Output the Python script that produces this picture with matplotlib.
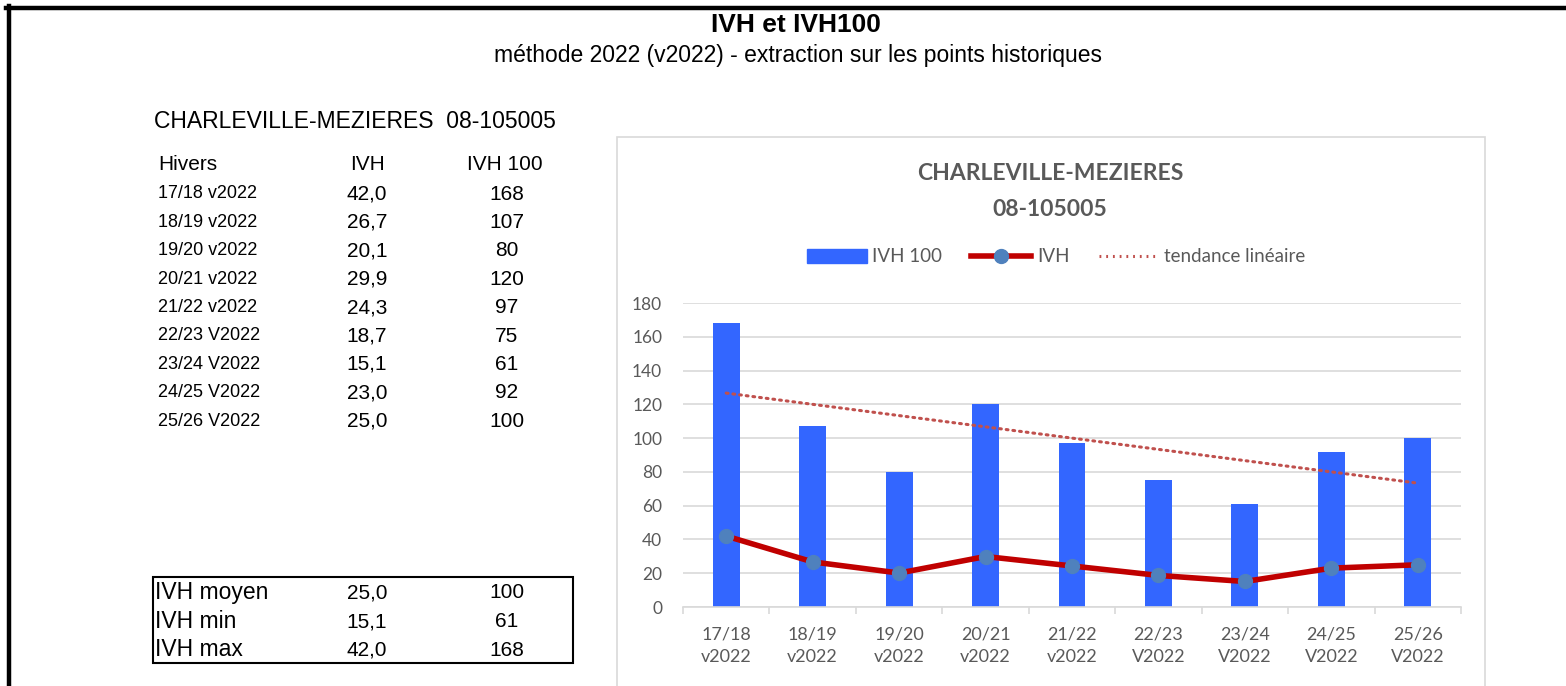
import numpy as np
import matplotlib
matplotlib.use("Agg")
import matplotlib.pyplot as plt
from matplotlib.patches import Rectangle
from matplotlib.lines import Line2D

# data
hivers = ["17/18 v2022", "18/19 v2022", "19/20 v2022", "20/21 v2022", "21/22 v2022",
          "22/23 V2022", "23/24 V2022", "24/25 V2022", "25/26 V2022"]
ivh = [42.0, 26.7, 20.1, 29.9, 24.3, 18.7, 15.1, 23.0, 25.0]
ivh100 = [168, 107, 80, 120, 97, 75, 61, 92, 100]
summary_labels = ["IVH moyen", "IVH min", "IVH max"]
summary_ivh = [25.0, 15.1, 42.0]
summary_ivh100 = [100, 61, 168]
yticks = [0, 20, 40, 60, 80, 100, 120, 140, 160, 180]

W, H = 1566, 686
fig = plt.figure(figsize=(W / 100, H / 100), dpi=100)
fig.patch.set_facecolor("white")


def fx(px):
    return px / W


def fy(py):
    return 1 - py / H


def fr(v):
    return f"{v:.1f}".replace(".", ",")


ARIAL = "Liberation Sans"
CAL = "Lato"
GREY = "#595959"

# outer border (top + left)
fig.add_artist(Line2D([fx(6), 1], [fy(8), fy(8)], color="black", lw=3.2,
                      transform=fig.transFigure))
fig.add_artist(Line2D([fx(9), fx(9)], [fy(6), 0], color="black", lw=3.2,
                      transform=fig.transFigure))

fig.text(fx(796), fy(32), "IVH et IVH100", ha="center", va="baseline",
         fontsize=19, fontweight="bold", family=ARIAL)
fig.text(fx(798), fy(62), "méthode 2022 (v2022) - extraction sur les points historiques",
         ha="center", va="baseline", fontsize=16.5, family=ARIAL)

fig.text(fx(154), fy(121), "CHARLEVILLE-MEZIERES  08-105005", ha="left", va="center",
         fontsize=16.5, family=ARIAL)

# left table
fig.text(fx(158), fy(164), "Hivers", ha="left", va="center", fontsize=15, family=ARIAL)
fig.text(fx(368), fy(164), "IVH", ha="center", va="center", fontsize=15, family=ARIAL)
fig.text(fx(505), fy(164), "IVH 100", ha="center", va="center", fontsize=15, family=ARIAL)
for i, (h, a, b) in enumerate(zip(hivers, ivh, ivh100)):
    y = 194 + i * 28.4
    fig.text(fx(158), fy(y), h, ha="left", va="center", fontsize=13, family=ARIAL)
    fig.text(fx(367), fy(y), fr(a), ha="center", va="center", fontsize=15, family=ARIAL)
    fig.text(fx(507), fy(y), str(b), ha="center", va="center", fontsize=15, family=ARIAL)

# summary box
fig.add_artist(Rectangle((fx(153), fy(663)), fx(573) - fx(153), fy(577) - fy(663),
                         transform=fig.transFigure, fill=False, ec="black", lw=1.5))
for i, (lab, a, b) in enumerate(zip(summary_labels, summary_ivh, summary_ivh100)):
    y = 593 + i * 28.5
    fig.text(fx(155), fy(y), lab, ha="left", va="center", fontsize=16.5, family=ARIAL)
    fig.text(fx(367), fy(y), fr(a), ha="center", va="center", fontsize=15, family=ARIAL)
    fig.text(fx(507), fy(y), str(b), ha="center", va="center", fontsize=15, family=ARIAL)

# chart frame
fig.add_artist(Rectangle((fx(617), fy(700)), fx(1485) - fx(617), fy(137) - fy(700),
                         transform=fig.transFigure, fill=False, ec="#D9D9D9", lw=1.2))
fig.text(fx(1050), fy(173), "CHARLEVILLE-MEZIERES", ha="center", va="center",
         fontsize=16.5, fontweight="bold", color=GREY, family=CAL)
fig.text(fx(1050), fy(209), "08-105005", ha="center", va="center",
         fontsize=16.5, fontweight="bold", color=GREY, family=CAL)

# chart axes
ax = fig.add_axes([fx(683), fy(607), fx(1461) - fx(683), fy(303) - fy(607)])
x = np.arange(len(ivh100))
ax.bar(x, ivh100, width=0.31, color="#3366FF", zorder=2, label="IVH 100")
coef = np.polyfit(x, ivh100, 1)
ax.plot(x, np.polyval(coef, x), color="#C0504D", lw=2.2, ls=(0, (0.6, 1.6)),
        dash_capstyle="round", zorder=3, label="tendance linéaire")
ax.plot(x, ivh, color="#C00000", lw=4, marker="o", ms=10, mfc="#4F81BD",
        mec="#4F81BD", zorder=4, label="IVH")
ax.set_xlim(-0.5, len(x) - 0.5)
ax.set_ylim(0, 180)
ax.set_yticks(yticks)
ax.grid(axis="y", color="#D9D9D9", lw=1.2, zorder=0)
ax.set_axisbelow(True)
for s in ["top", "right", "left"]:
    ax.spines[s].set_visible(False)
ax.spines["bottom"].set_color("#D9D9D9")
ax.spines["bottom"].set_linewidth(1.2)
ax.tick_params(axis="y", length=0, labelsize=12.5, labelcolor=GREY, pad=15)
ax.set_xticks(x)
ax.set_xticklabels([h.replace(" ", "\n") for h in hivers], fontsize=13, color=GREY,
                   family=CAL, linespacing=1.5)
ax.set_xticks(np.arange(-0.5, len(x)), minor=True)
ax.tick_params(axis="x", which="major", length=0, pad=14)
ax.tick_params(axis="x", which="minor", length=5, color="#D9D9D9", width=1.2)
for t in ax.get_yticklabels():
    t.set_family(CAL)

# legend
h_bar = Rectangle((0, 0), 1, 1, color="#3366FF")
h_ivh = Line2D([], [], color="#C00000", lw=4, marker="o", ms=10, mfc="#4F81BD",
               mec="#4F81BD")
h_tr = Line2D([], [], color="#C0504D", lw=2.2, ls=(0, (0.6, 1.6)))
fig.legend([h_bar, h_ivh, h_tr], ["IVH 100", "IVH", "tendance linéaire"],
           loc="center", bbox_to_anchor=(fx(1056), fy(257)), ncol=3, frameon=False,
           prop={"family": CAL, "size": 13.5}, labelcolor=GREY, handlelength=3.2,
           handleheight=0.75, columnspacing=1.55, handletextpad=0.3)

fig.savefig("out.png", dpi=100)
